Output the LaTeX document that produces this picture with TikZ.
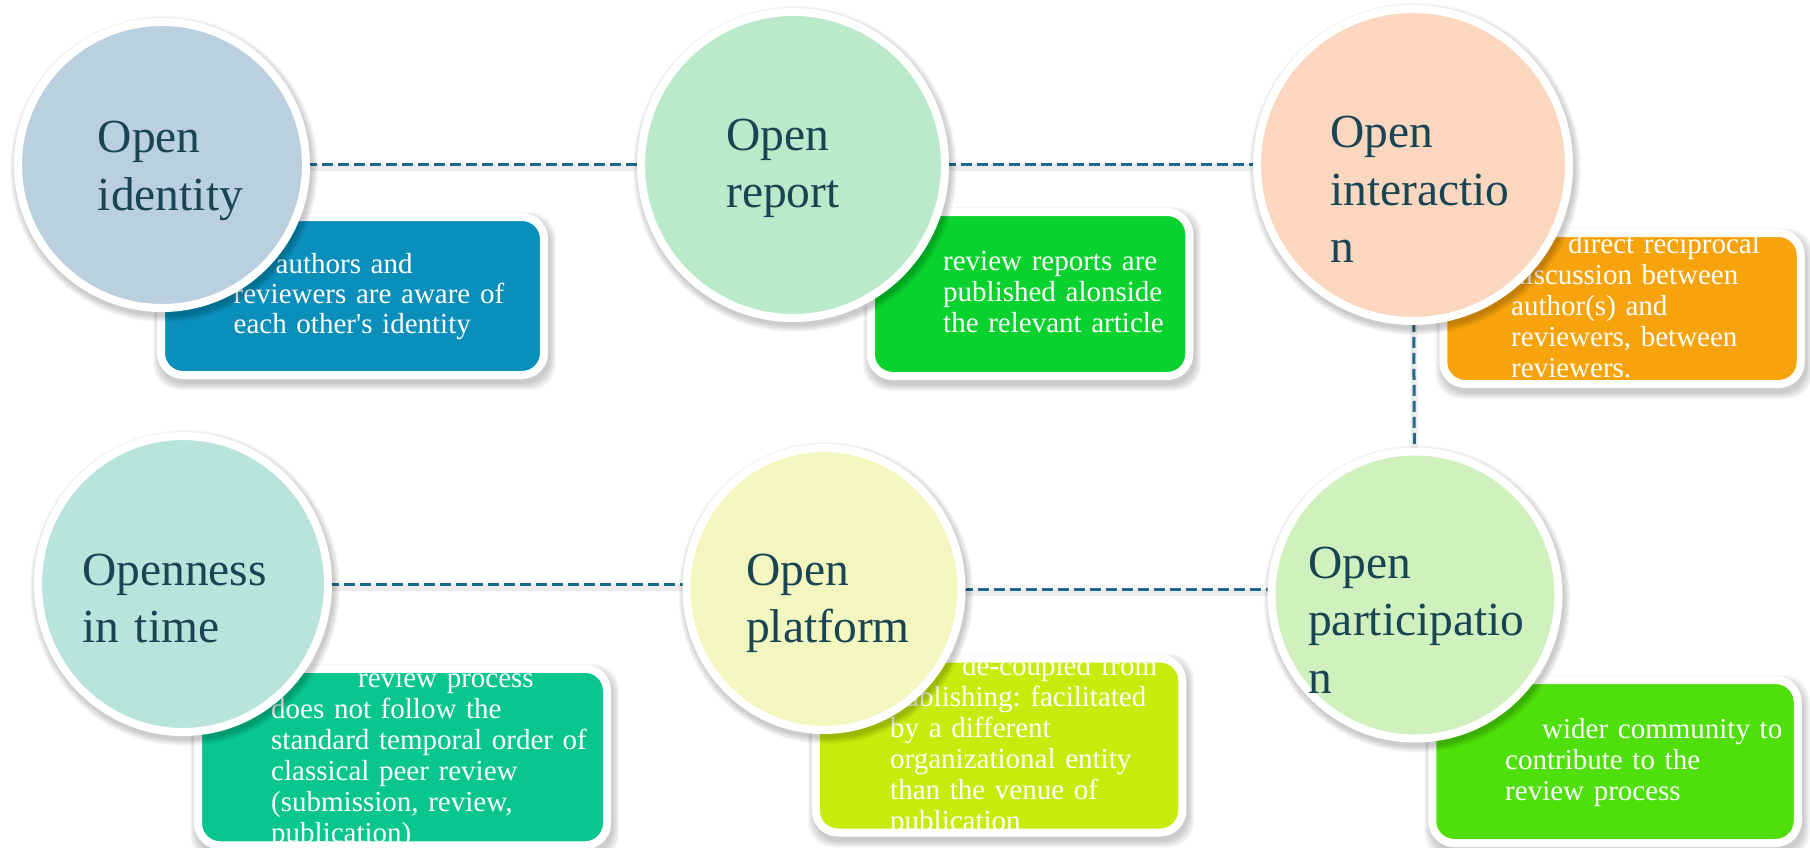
\documentclass[tikz,border=0pt]{standalone}
\usepackage{fontspec}
\setmainfont{Liberation Serif}[Ligatures=TeXOff]
\usetikzlibrary{shapes.geometric,backgrounds}
\definecolor{lineblue}{RGB}{31,106,138}
\definecolor{titlecol}{RGB}{24,68,84}
\definecolor{c1col}{RGB}{187,208,223}
\definecolor{c2col}{RGB}{186,234,202}
\definecolor{c3col}{RGB}{250,215,190}
\definecolor{c4col}{RGB}{208,240,189}
\definecolor{c5col}{RGB}{243,246,190}
\definecolor{c6col}{RGB}{184,228,220}
\definecolor{b1col}{RGB}{10,142,186}
\definecolor{b2col}{RGB}{9,210,47}
\definecolor{b3col}{RGB}{247,163,11}
\definecolor{b4col}{RGB}{79,224,11}
\definecolor{b5col}{RGB}{198,236,11}
\definecolor{b6col}{RGB}{9,198,143}
\tikzset{
  disc/.style={ellipse, draw=white, line width=8pt, inner sep=0pt, outer sep=0pt},
  card/.style={rectangle, rounded corners=22pt, draw=white, line width=8pt, inner sep=0pt, outer sep=0pt},
  link/.style={draw=lineblue, line width=3pt, dash pattern=on 11pt off 5pt,
    preaction={draw=black, opacity=0.07, line width=7pt, solid, transform canvas={yshift=-3pt}}},
  title/.style={anchor=base west, inner sep=0pt, text width=400pt, align=left,
    font=\fontsize{47.5}{57.5}\selectfont, text=titlecol},
  note/.style={anchor=base west, inner sep=0pt, text width=420pt, align=left,
    font=\fontsize{29}{31}\selectfont\frenchspacing, text=white},
  softshade/.style={black, opacity=0.03},
}
% soft shadow of a disc: centre x, y, radius x, y
\newcommand{\discshadow}[4]{%
  \foreach \i in {0,...,6}{%
    \fill[softshade] ({#1+2},{#2+4}) ellipse [x radius={#3+\i}, y radius={#4+\i}];}}
% soft shadow of a card: centre x, y, width, height
\newcommand{\cardshadow}[4]{%
  \foreach \i in {0,...,6}{%
    \fill[softshade, rounded corners=26pt] ({#1-#3/2-4-\i+2},{#2-#4/2-4-\i+5}) rectangle ({#1+#3/2+4+\i+2},{#2+#4/2+4+\i+5});}}
% card text clipped to the coloured area: card, name, x, y, text
\newcommand{\cardText}[5]{%
  \begin{scope}
    \clip[rounded corners=18pt] ([shift={(4,4)}]#1.north west) rectangle ([shift={(-4,-4)}]#1.south east);
    \node[note] (#2) at (#3,#4) {#5};
  \end{scope}}
\begin{document}
\begin{tikzpicture}[x=1pt,y=-1pt]
\useasboundingbox (0,0) rectangle (1810,848);

% ---------- cards ----------
\cardshadow{352.5}{296}{383}{158}
\node[card, fill=b1col, minimum width=383pt, minimum height=158pt] (b1) at (352.5,296) {};
\cardText{b1}{t1}{233.5}{273}{\hspace*{42pt}authors and\\[-1pt]reviewers are aware of\\[-1pt]each other's identity}

\cardshadow{1030}{294}{318.5}{164}
\node[card, fill=b2col, minimum width=318.5pt, minimum height=164pt] (b2) at (1030,294) {};
\cardText{b2}{t2}{943}{270}{review reports are\\published alonside\\the relevant article}

\cardshadow{1622}{308.5}{357.5}{151}
\node[card, fill=b3col, minimum width=357.5pt, minimum height=151pt] (b3) at (1622,308.5) {};
\cardText{b3}{t3}{1511}{253}{\hspace*{57pt}direct reciprocal\\discussion between\\author(s) and\\reviewers, between\\reviewers.}

\cardshadow{1615}{761.5}{365.5}{163}
\node[card, fill=b4col, minimum width=365.5pt, minimum height=163pt] (b4) at (1615,761.5) {};
\cardText{b4}{t4}{1505}{738}{\hspace*{37pt}wider community to\\contribute to the\\review process}

\cardshadow{999}{745.5}{366.5}{174}
\node[card, fill=b5col, minimum width=366.5pt, minimum height=174pt] (b5) at (999,745.5) {};
\cardText{b5}{t5}{890}{675}{\hspace*{72pt}de-coupled from\\publishing: facilitated\\by a different\\organizational entity\\than the venue of\\publication}

\cardshadow{402.5}{757}{409}{176.5}
\node[card, fill=b6col, minimum width=409pt, minimum height=176.5pt] (b6) at (402.5,757) {};
\cardText{b6}{t6}{271}{687}{\hspace*{87pt}review process\\does not follow the\\standard temporal order of\\classical peer review\\(submission, review,\\publication)}

% ---------- discs ----------
\discshadow{162}{165}{148}{147}
\node[disc, fill=c1col, minimum width=288pt, minimum height=286pt] (c1) at (162,165) {};
\node[title] (h1) at (97.6,153) {Open\\identity};

\discshadow{793}{165}{156}{157}
\node[disc, fill=c2col, minimum width=304pt, minimum height=306pt] (c2) at (793,165) {};
\node[title] (h2) at (726,150) {Open\\report};

\discshadow{1413}{165}{160}{160}
\node[disc, fill=c3col, minimum width=312pt, minimum height=312pt] (c3) at (1413,165) {};
\node[title] (h3) at (1330,148) {Open\\interactio\\n};

\discshadow{1415}{595}{147.5}{147.5}
\node[disc, fill=c4col, minimum width=287pt, minimum height=287pt] (c4) at (1415,595) {};
\node[title] (h4) at (1308,578) {Open\\participatio\\n};

\discshadow{824}{589}{141.5}{145}
\node[disc, fill=c5col, minimum width=275pt, minimum height=282pt] (c5) at (824,589) {};
\node[title] (h5) at (746,585) {Open\\platform};

\discshadow{183}{584}{149}{152}
\node[disc, fill=c6col, minimum width=290pt, minimum height=296pt] (c6) at (183,584) {};
\node[title] (h6) at (82,585) {Openness\\in time};

% ---------- connectors ----------
\begin{scope}[on background layer]
  \draw[link] (c1) -- (c2);
  \draw[link] (c2) -- (c3);
  \draw[link] (c3) -- (c4);
  \draw[link] (c5) -- (c5 -| c4);
  \draw[link] (c6) -- (c6 -| c5);
\end{scope}
\end{tikzpicture}
\end{document}
